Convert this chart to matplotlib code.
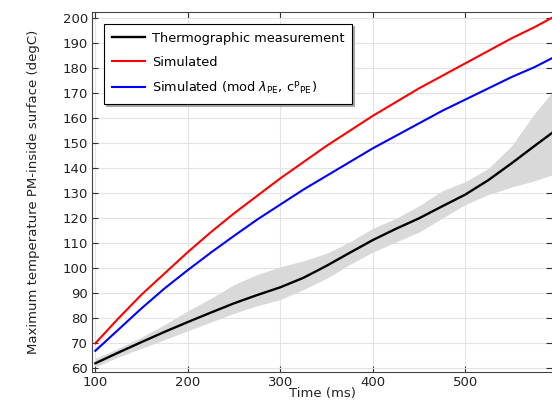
import matplotlib
matplotlib.use("Agg")
import matplotlib.pyplot as plt
import numpy as np

# Data
time_ms = [100, 125, 150, 175, 200, 225, 250, 275, 300, 325, 350, 375, 400,
           425, 450, 475, 500, 525, 550, 575, 595]
simulated = [70, 80, 89.5, 98, 106.5, 114.5, 122, 129, 136, 142.5, 149, 155, 161,
             166.5, 172, 177, 182, 187, 192, 196.5, 200.5]
simulated_mod = [67, 75.5, 84, 92, 99.3, 106.3, 113, 119.5, 125.5, 131.5, 137, 142.5, 148,
                 153, 158, 163, 167.5, 172, 176.5, 180.5, 184.3]
measured = [62, 66.3, 70.5, 74.6, 78.5, 82.3, 86, 89.3, 92.4, 96.2, 101, 106.2, 111.3,
            115.8, 120, 124.8, 129.5, 135.3, 142, 149, 154.5]
measured_upper = [64, 68, 72.5, 77.5, 83, 88, 93.5, 97.5, 100.6, 103, 106, 110.5, 116,
                  120, 125, 131, 134.6, 140, 149, 162, 171]
measured_lower = [60.5, 64.5, 68, 71.5, 75, 78.5, 82, 85, 87.5, 91.5, 96, 101.5, 106.5,
                  110.5, 114.5, 120, 125.5, 129.5, 132.5, 135, 137.5]

labels = ["Thermographic measurement", "Simulated",
          r"Simulated (mod $\lambda_{\mathrm{PE}}$, c$^{\mathrm{p}}$$_{\mathrm{PE}}$)"]
x_ticks = [100, 200, 300, 400, 500]
y_ticks = list(range(60, 201, 10))

fig = plt.figure(figsize=(5.52, 4.01), dpi=100)
ax = fig.add_axes([92 / 552, 0.0731, 1 - 92 / 552, 0.8962])

ax.fill_between(time_ms, measured_lower, measured_upper, color="#d9d9d9", lw=0, zorder=1)
l1, = ax.plot(time_ms, measured, color="black", lw=1.7, zorder=3)
l2, = ax.plot(time_ms, simulated, color="red", lw=1.5, zorder=3)
l3, = ax.plot(time_ms, simulated_mod, color="blue", lw=1.5, zorder=3)

ax.set_xlim(96.4, 593.7)
ax.set_ylim(58.64, 202.4)
ax.set_xticks(x_ticks)
ax.set_yticks(y_ticks)
ax.grid(True, color="#e3e3e3", lw=0.8, zorder=0)
ax.set_axisbelow(True)
ax.tick_params(direction="in", top=True, right=True, length=4, width=0.8,
               labelsize=9.5, colors="#333333", labelcolor="#222222", pad=3)
for s in ["left", "bottom", "top"]:
    ax.spines[s].set_color("#444444")
    ax.spines[s].set_linewidth(0.8)
ax.spines["right"].set_visible(False)

ax.set_xlabel("Time (ms)", fontsize=9.5, color="#222222", labelpad=-1)
ax.set_ylabel("Maximum temperature PM-inside surface (degC)", fontsize=9.5,
              color="#222222", labelpad=16)

leg = ax.legend([l1, l2, l3], labels, loc="upper left",
                bbox_to_anchor=(104 / 552, 1 - 24 / 401), bbox_transform=fig.transFigure,
                borderaxespad=0, fancybox=False,
                shadow={"ox": 1.5, "oy": -1.5, "color": "#a8a8a8", "alpha": 1.0},
                fontsize=9.3, handlelength=2.6, handletextpad=0.5,
                borderpad=0.6, labelspacing=0.85,
                framealpha=1, edgecolor="black")
leg.get_frame().set_linewidth(0.8)

fig.savefig("out.png", dpi=100)
